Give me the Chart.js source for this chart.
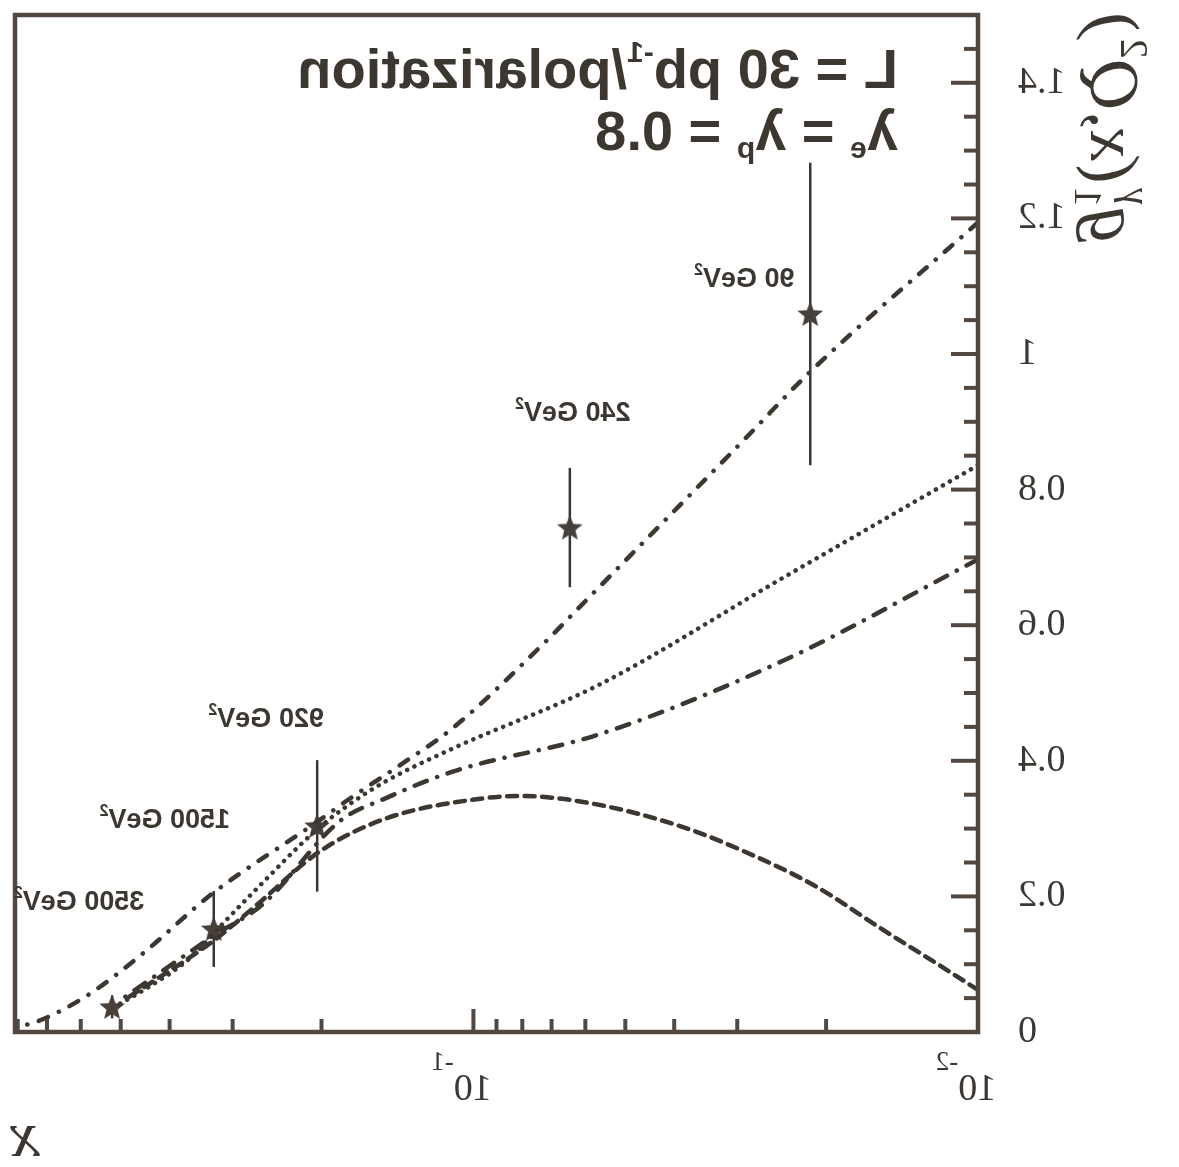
<!DOCTYPE html>
<html>
<head>
<meta charset="utf-8">
<script src="https://cdn.jsdelivr.net/npm/chart.js@4.4.1/dist/chart.umd.min.js"></script>
<style>
    html, body { margin: 0; padding: 0; background: #ffffff; }
    /* the reference is a mirror image of the plot, so draw it normally and flip it */
    #wrap { width: 1179px; height: 1167px; transform: scaleX(-1); }
</style>
</head>
<body>
<div id="wrap"><canvas id="g1Chart" width="1179" height="1167"></canvas></div>
<script>
// ==================== DATA ====================

// theory curves, x (Bjorken x) and g1 values
const curveAX = [0.01, 0.0217, 0.0286, 0.061, 0.0721, 0.110, 0.137, 0.176, 0.204, 0.332, 0.450, 0.582, 0.718, 0.81];
const curveAY = [1.194, 0.971, 0.879, 0.630, 0.575, 0.448, 0.398, 0.344, 0.310, 0.202, 0.117, 0.054, 0.018, 0.006];

const curveBX = [0.01, 0.0246, 0.0564, 0.110, 0.149, 0.176, 0.204, 0.269, 0.323, 0.363, 0.450, 0.515];
const curveBY = [0.836, 0.668, 0.512, 0.418, 0.370, 0.336, 0.299, 0.211, 0.150, 0.110, 0.062, 0.037];

const curveCX = [0.01, 0.0246, 0.0564, 0.110, 0.149, 0.184, 0.261, 0.327, 0.492];
const curveCY = [0.697, 0.546, 0.439, 0.384, 0.345, 0.311, 0.189, 0.142, 0.051];

const curveDX = [0.01, 0.0115, 0.0156, 0.0211, 0.0286, 0.0387, 0.0582, 0.080, 0.0946, 0.149, 0.201, 0.273, 0.327, 0.492];
const curveDY = [0.062, 0.091, 0.153, 0.216, 0.264, 0.303, 0.337, 0.348, 0.345, 0.315, 0.267, 0.183, 0.135, 0.047];

// simulated measurements
const pointX = [0.0215, 0.0644, 0.204, 0.327, 0.520];
const pointY = [1.059, 0.744, 0.304, 0.152, 0.037];
const pointErr = [0.223, 0.088, 0.097, 0.056, 0.017];
const pointQ2 = ['90', '240', '920', '1500', '3500'];

// axis ticks
const xMajorTicks = [0.01, 0.1];
const xMinorTicks = [0.02, 0.03, 0.04, 0.05, 0.06, 0.07, 0.08, 0.09, 0.2, 0.3, 0.4, 0.5, 0.6, 0.7, 0.8];
const xTickExponents = ['-2', '-1'];
const yMajorTicks = [0, 0.2, 0.4, 0.6, 0.8, 1.0, 1.2, 1.4];
const yMinorTicks = [0.05, 0.1, 0.15, 0.25, 0.3, 0.35, 0.45, 0.5, 0.55, 0.65, 0.7, 0.75,
    0.85, 0.9, 0.95, 1.05, 1.1, 1.15, 1.25, 1.3, 1.35, 1.45];

// ==================== STYLE ====================

const ink = '#3d3732';
const frameInk = '#524841';
const serif = "'Liberation Serif', 'DejaVu Serif', serif";
const sans = "'Liberation Sans', Arial, sans-serif";

function toPoints(xs, ys) {
    return xs.map((x, i) => ({ x: x, y: ys[i] }));
}

function starImage(size, color) {
    const c = document.createElement('canvas');
    c.width = size;
    c.height = size;
    const g = c.getContext('2d');
    const r = size / 2;
    g.beginPath();
    for (let i = 0; i < 10; i++) {
        const rr = i % 2 ? r * 0.42 : r - 0.5;
        const a = -Math.PI / 2 + i * Math.PI / 5;
        g.lineTo(r + rr * Math.cos(a), r + 1 + rr * Math.sin(a));
    }
    g.closePath();
    g.fillStyle = color;
    g.fill();
    return c;
}

// draws a run of text pieces (used for superscripts / subscripts)
function drawRich(ctx, pieces, x, y, align) {
    let total = 0;
    pieces.forEach(p => {
        ctx.font = p.font;
        p.w = ctx.measureText(p.text).width;
        total += p.w;
    });
    let cx = x;
    if (align === 'center') cx = x - total / 2;
    if (align === 'right') cx = x - total;
    pieces.forEach(p => {
        ctx.font = p.font;
        ctx.fillText(p.text, cx, y + (p.dy || 0));
        cx += p.w;
    });
}

function curveDataset(xs, ys, dash) {
    return {
        data: toPoints(xs, ys),
        showLine: true,
        borderColor: ink,
        borderWidth: 4.5,
        borderDash: dash,
        borderCapStyle: 'round',
        pointRadius: 0,
        cubicInterpolationMode: 'monotone',
        fill: false
    };
}

// ==================== PLUGINS ====================

const axesPlugin = {
    id: 'axesPlugin',
    beforeDatasetsDraw(chart) {
        const ctx = chart.ctx;
        const x = chart.scales.x;
        const y = chart.scales.y;
        ctx.save();
        ctx.strokeStyle = ink;
        ctx.lineWidth = 2.5;
        pointX.forEach((px, i) => {
            const xp = x.getPixelForValue(px);
            ctx.beginPath();
            ctx.moveTo(xp, y.getPixelForValue(pointY[i] - pointErr[i]));
            ctx.lineTo(xp, y.getPixelForValue(pointY[i] + pointErr[i]));
            ctx.stroke();
        });
        ctx.restore();
    },
    afterDraw(chart) {
        const ctx = chart.ctx;
        const area = chart.chartArea;
        const x = chart.scales.x;
        const y = chart.scales.y;
        ctx.save();
        ctx.fillStyle = ink;
        ctx.strokeStyle = frameInk;
        ctx.lineCap = 'butt';

        // inward ticks
        ctx.lineWidth = 4;
        const tick = (x0, y0, x1, y1) => {
            ctx.beginPath();
            ctx.moveTo(x0, y0);
            ctx.lineTo(x1, y1);
            ctx.stroke();
        };
        yMajorTicks.forEach(v => { const p = y.getPixelForValue(v); tick(area.left, p, area.left + 27, p); });
        yMinorTicks.forEach(v => { const p = y.getPixelForValue(v); tick(area.left, p, area.left + 14, p); });
        xMajorTicks.forEach(v => { const p = x.getPixelForValue(v); tick(p, area.bottom, p, area.bottom - 23); });
        xMinorTicks.forEach(v => { const p = x.getPixelForValue(v); tick(p, area.bottom, p, area.bottom - 13); });

        // frame
        ctx.lineWidth = 4.5;
        ctx.strokeRect(area.left, area.top, area.right - area.left, area.bottom - area.top);

        // x tick labels 10^-n
        ctx.textAlign = 'left';
        ctx.textBaseline = 'alphabetic';
        xMajorTicks.forEach((v, i) => {
            const p = x.getPixelForValue(v);
            drawRich(ctx, [
                { text: '10', font: '38px ' + serif },
                { text: xTickExponents[i], font: '27px ' + serif, dy: -30 }
            ], p + 12, 1100, 'center');
        });

        // axis titles
        drawRich(ctx, [{ text: 'x', font: 'italic 66px ' + serif }], 1140, 1156, 'left');

        ctx.save();
        ctx.translate(88, 242);
        ctx.rotate(-Math.PI / 2);
        ctx.font = 'italic 70px ' + serif;
        ctx.fillText('g', 0, 0);
        let cx = ctx.measureText('g').width;
        ctx.font = 'italic 40px ' + serif;
        ctx.fillText('\u03b3', cx + 2, -32);
        ctx.font = '40px ' + serif;
        ctx.fillText('1', cx, 16);
        cx += 24;
        ctx.font = 'italic 70px ' + serif;
        ctx.fillText('(x,Q', cx, 0);
        cx += ctx.measureText('(x,Q').width;
        ctx.font = '40px ' + serif;
        ctx.fillText('2', cx + 2, -30);
        cx += ctx.measureText('2').width + 4;
        ctx.font = 'italic 70px ' + serif;
        ctx.fillText(')', cx, 0);
        ctx.restore();

        // Q^2 labels next to each measurement
        const labelShift = [[66, -37], [-3, -117], [51, -109], [49, -111], [33, -107]];
        pointX.forEach((px, i) => {
            const xp = x.getPixelForValue(px) + labelShift[i][0];
            const yp = y.getPixelForValue(pointY[i]) + labelShift[i][1] + 10;
            drawRich(ctx, [
                { text: pointQ2[i] + ' GeV', font: 'bold 27px ' + sans },
                { text: '2', font: 'bold 16px ' + sans, dy: -12 }
            ], xp, yp, 'center');
        });

        // luminosity / polarization annotation
        drawRich(ctx, [
            { text: 'L = 30 pb', font: 'bold 56px ' + sans },
            { text: '-1', font: 'bold 30px ' + sans, dy: -26 },
            { text: '/polarization', font: 'bold 56px ' + sans }
        ], 281, 88, 'left');
        drawRich(ctx, [
            { text: '\u03bb', font: 'bold 56px ' + sans },
            { text: 'e', font: 'bold 30px ' + sans, dy: 8 },
            { text: ' = \u03bb', font: 'bold 56px ' + sans },
            { text: 'p', font: 'bold 30px ' + sans, dy: 8 },
            { text: ' = 0.8', font: 'bold 56px ' + sans }
        ], 281, 150, 'left');

        ctx.restore();
    }
};

// ==================== CHART ====================

const ctx = document.getElementById('g1Chart');

const g1Chart = new Chart(ctx, {
    type: 'scatter',
    data: {
        datasets: [
            curveDataset(curveAX, curveAY, [10, 12, 0.1, 12]),
            curveDataset(curveBX, curveBY, [0.1, 8]),
            curveDataset(curveCX, curveCY, [13, 11, 0.1, 11]),
            curveDataset(curveDX, curveDY, [10, 7.5]),
            {
                data: toPoints(pointX, pointY),
                pointStyle: starImage(28, '#463f3a'),
                pointRadius: 14,
                showLine: false
            }
        ]
    },
    options: {
        responsive: false,
        animation: false,
        layout: { padding: { top: 10, right: 9, left: 0, bottom: 0 } },
        plugins: {
            legend: { display: false },
            tooltip: { enabled: false }
        },
        scales: {
            x: {
                type: 'logarithmic',
                min: 0.01,
                max: 0.81,
                grid: { display: false },
                border: { display: false },
                ticks: { display: false },
                afterFit: scale => {
                    scale.height = 135;
                    scale.paddingLeft = 0;
                    scale.paddingRight = 0;
                }
            },
            y: {
                min: 0,
                max: 1.5,
                grid: { display: false, drawTicks: false },
                border: { display: false },
                ticks: {
                    stepSize: 0.2,
                    includeBounds: false,
                    padding: 40,
                    color: ink,
                    font: { family: serif, size: 38 },
                    callback: v => String(Math.round(v * 10) / 10)
                },
                afterFit: scale => {
                    scale.width = 201;
                    scale.paddingTop = 0;
                    scale.paddingBottom = 0;
                }
            }
        }
    },
    plugins: [axesPlugin]
});
</script>
</body>
</html>
